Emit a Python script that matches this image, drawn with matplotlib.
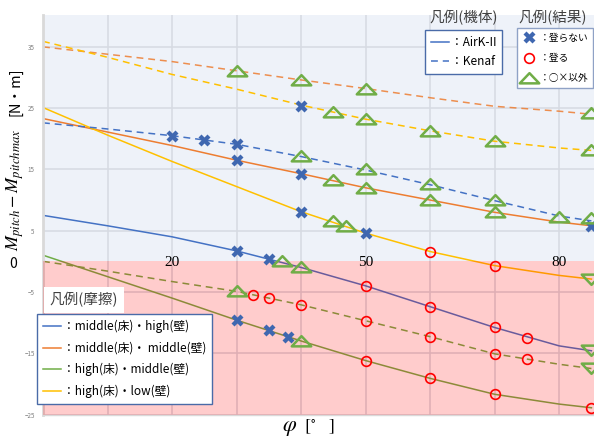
import numpy as np
import matplotlib
matplotlib.use("Agg")
import matplotlib.pyplot as plt
from matplotlib.path import Path
from matplotlib.lines import Line2D

plt.rcParams['font.family'] = ['Noto Sans CJK JP', 'DejaVu Sans']
plt.rcParams['mathtext.fontset'] = 'stix'

# ---- données ----
phi_line = [0, 10, 20, 30, 40, 50, 60, 70, 80, 85]

# AirK-II (trait plein)
airk_mid_high = [7.5, 5.8, 4.0, 1.7, -1.0, -4.0, -7.4, -10.8, -13.8, -14.6]
airk_mid_mid = [23.3, 21.1, 18.9, 16.5, 14.3, 12.0, 10.0, 8.0, 6.4, 5.8]
airk_high_mid = [1.0, -2.5, -6.0, -9.6, -13.0, -16.2, -19.1, -21.7, -23.3, -23.9]
airk_high_low = [25.1, 20.6, 16.3, 12.2, 8.1, 4.6, 1.6, -0.7, -2.3, -2.9]

# Kenaf (pointillés)
kenaf_mid_high = [22.6, 21.6, 20.5, 19.1, 17.1, 14.9, 12.5, 9.9, 7.4, 6.6]
kenaf_mid_mid = [35.0, 33.8, 32.6, 31.1, 29.6, 28.2, 26.7, 25.3, 24.5, 24.0]
kenaf_high_mid = [0.0, -1.6, -3.3, -4.9, -7.1, -9.7, -12.3, -15.1, -16.8, -17.5]
kenaf_high_low = [35.9, 33.3, 30.5, 28.1, 25.5, 23.2, 21.3, 19.6, 18.5, 18.1]

# résultats : 登らない (x)
x_phi = [20, 25, 30, 30, 40, 85, 40, 40, 50, 30, 35, 30, 35, 38]
x_val = [20.5, 19.8, 19.1, 16.5, 14.3, 5.8, 25.4, 8.1, 4.6, 1.7, 0.4, -9.6, -11.2, -12.3]

# 登る (o)
o_phi = [60, 70, 50, 60, 70, 75, 32.5, 35, 40, 50, 60, 70, 75, 50, 60, 70, 85]
o_val = [1.6, -0.7, -4.0, -7.4, -10.8, -12.5, -5.5, -6.0, -7.1, -9.7, -12.3,
         -15.1, -15.9, -16.2, -19.1, -21.7, -23.9]

# ○×以外 (triangle)
t_phi = [30, 40, 50, 85, 45, 50, 60, 70, 85, 40, 50, 60, 70, 80, 85,
         45, 50, 60, 70, 45, 47, 37, 40, 30, 40]
t_val = [31.1, 29.6, 28.2, 24.2, 24.3, 23.2, 21.3, 19.6, 18.1, 17.2, 15.0, 12.6,
         10.0, 7.3, 7.0, 13.3, 12.0, 10.0, 8.0, 6.6, 5.8, 0.1, -1.0, -4.9, -13.0]
td_phi = [85, 85, 85]
td_val = [-2.9, -14.5, -17.4]

y_ticks = [-25, -15, -5, 5, 15, 25, 35]
x_grid = [10, 20, 30, 40, 50, 60, 70, 80]
x_labels = [20, 50, 80]

# ---- couleurs ----
c_blue = '#4472C4'
c_orange = '#ED7D31'
c_green = '#70AD47'
c_yellow = '#FFC000'
c_cross = '#3F67B0'

tri_up = Path([(-1, -0.5), (1, -0.5), (0, 0.55), (-1, -0.5)],
              [Path.MOVETO, Path.LINETO, Path.LINETO, Path.CLOSEPOLY])
tri_dn = Path([(-1, 0.5), (1, 0.5), (0, -0.55), (-1, 0.5)],
              [Path.MOVETO, Path.LINETO, Path.LINETO, Path.CLOSEPOLY])

fig = plt.figure(figsize=(5.94, 4.37), dpi=100)
ax = fig.add_axes([43 / 594, 1 - 414.5 / 437, 1 - 43 / 594, (414.5 - 15) / 437])
ax.set_xlim(0, 85.4)
ax.set_ylim(-25, 40.2)

# fond bleu au-dessus de 0
ax.axhspan(0, 40.2, color='#EEF2F9', zorder=0.2, lw=0)
ax.set_yticks(y_ticks)
ax.set_xticks(x_grid)
ax.set_xticklabels([])
ax.grid(True, color='#D6DAE2', lw=1.1, zorder=0.5)
ax.set_axisbelow(True)
ax.tick_params(length=0)
ax.tick_params(axis='y', labelsize=4.5, labelcolor='#7F7F7F', pad=6)
for s in ['top', 'right']:
    ax.spines[s].set_visible(False)
ax.spines['left'].set_color('#D9D9D9')
ax.spines['left'].set_linewidth(2)
ax.spines['bottom'].set_color('#D9D9D9')
ax.spines['bottom'].set_linewidth(1)

lw = 1.1
dash = (4.5, 3.2)
ax.plot(phi_line, airk_mid_high, color=c_blue, lw=lw, zorder=2)
ax.plot(phi_line, airk_mid_mid, color=c_orange, lw=lw, zorder=2)
ax.plot(phi_line, airk_high_mid, color=c_green, lw=lw, zorder=2)
ax.plot(phi_line, airk_high_low, color=c_yellow, lw=lw, zorder=2)
ax.plot(phi_line, kenaf_mid_high, color=c_blue, lw=lw, dashes=dash, zorder=2)
ax.plot(phi_line, kenaf_mid_mid, color=c_orange, lw=lw, dashes=dash, zorder=2, alpha=0.85)
ax.plot(phi_line, kenaf_high_mid, color=c_green, lw=lw, dashes=dash, zorder=2)
ax.plot(phi_line, kenaf_high_low, color=c_yellow, lw=lw, dashes=dash, zorder=2)

# zone rose (transparente) sous 0
ax.axhspan(-25, 0, color='red', alpha=0.2, zorder=3, lw=0)

ax.plot(x_phi, x_val, ls='none', marker='X', ms=8, color=c_cross, mec='none', zorder=4,
        clip_on=False)
ax.plot(o_phi, o_val, ls='none', marker='o', ms=7, mfc='none', mec='red', mew=1.2, zorder=4)
ax.plot(t_phi, t_val, ls='none', marker=tri_up, ms=14, mfc='none', mec=c_green, mew=1.8, zorder=4)
ax.plot(td_phi, td_val, ls='none', marker=tri_dn, ms=14, mfc='none', mec=c_green, mew=1.8, zorder=4)

for v in x_labels:
    ax.text(v, -0.2, str(v), ha='center', va='center', fontsize=11,
            family='Liberation Serif', zorder=5)

# label "0"
fig.text(13 / 594, 1 - 264 / 437, '0', ha='center', va='center', fontsize=10, color='black')

# axes titres
fig.text(290 / 594, 1 - 426 / 437, r'$\varphi$', ha='center', va='center', fontsize=16)
fig.text(319 / 594, 1 - 427 / 437, r'$[^{\circ}\quad]$', ha='center', va='center', fontsize=13)
fig.text(15 / 594, 1 - 251 / 437, r'$M_{pitch}-M_{pitchmax}$', rotation=90,
         rotation_mode='anchor', ha='left', va='center', fontsize=13)
fig.text(15 / 594, 1 - 116 / 437, '[N・m]', rotation=90,
         rotation_mode='anchor', ha='left', va='center', fontsize=10.5)

# ---- légendes ----
fig.text(464 / 594, 1 - 18 / 437, '凡例(機体)', ha='center', va='center', fontsize=10.5, color='#404040')
fig.text(553 / 594, 1 - 18 / 437, '凡例(結果)', ha='center', va='center', fontsize=10.5, color='#404040')
fig.text(84 / 594, 1 - 300 / 437, '凡例(摩擦)', ha='center', va='center', fontsize=10.5, color='#404040',
         bbox=dict(facecolor='white', edgecolor='none', pad=4))

h1 = [Line2D([], [], color=c_blue, lw=lw),
      Line2D([], [], color=c_blue, lw=lw, dashes=dash)]
leg1 = fig.legend(h1, ['：AirK-II', '：Kenaf'], loc='upper left',
                  bbox_to_anchor=(425 / 594, 1 - 30 / 437), borderaxespad=0,
                  fontsize=8.5, handlelength=1.5, handletextpad=0.2, fancybox=False,
                  framealpha=1, edgecolor='#4A6BA8', borderpad=0.5, labelspacing=0.55)
leg1.get_frame().set_linewidth(1.0)

h2 = [Line2D([], [], ls='none', marker='X', ms=8, color=c_cross, mec='none'),
      Line2D([], [], ls='none', marker='o', ms=7, mfc='none', mec='red', mew=1.2),
      Line2D([], [], ls='none', marker=tri_up, ms=14, mfc='none', mec=c_green, mew=1.8)]
leg2 = fig.legend(h2, ['：登らない', '：登る', '：○×以外'], loc='upper left',
                  bbox_to_anchor=(517 / 594, 1 - 28 / 437), borderaxespad=0,
                  fontsize=7, handlelength=1.5, handletextpad=0.35, fancybox=False,
                  framealpha=1, edgecolor='#8FA2C6', borderpad=0.5, labelspacing=1.05)
leg2.get_frame().set_linewidth(1.0)

h3 = [Line2D([], [], color=c, lw=lw) for c in [c_blue, c_orange, c_green, c_yellow]]
leg3 = fig.legend(h3, ['：middle(床)・high(壁)', '：middle(床)・ middle(壁)',
                       '：high(床)・middle(壁)', '：high(床)・low(壁)'], loc='upper left',
                  bbox_to_anchor=(37 / 594, 1 - 314 / 437), borderaxespad=0,
                  fontsize=8.5, handlelength=1.5, handletextpad=0.2, fancybox=False,
                  framealpha=1, edgecolor='#4A6BA8', borderpad=0.5, labelspacing=0.72)
leg3.get_frame().set_linewidth(1.0)

fig.savefig('out.png', dpi=100)
